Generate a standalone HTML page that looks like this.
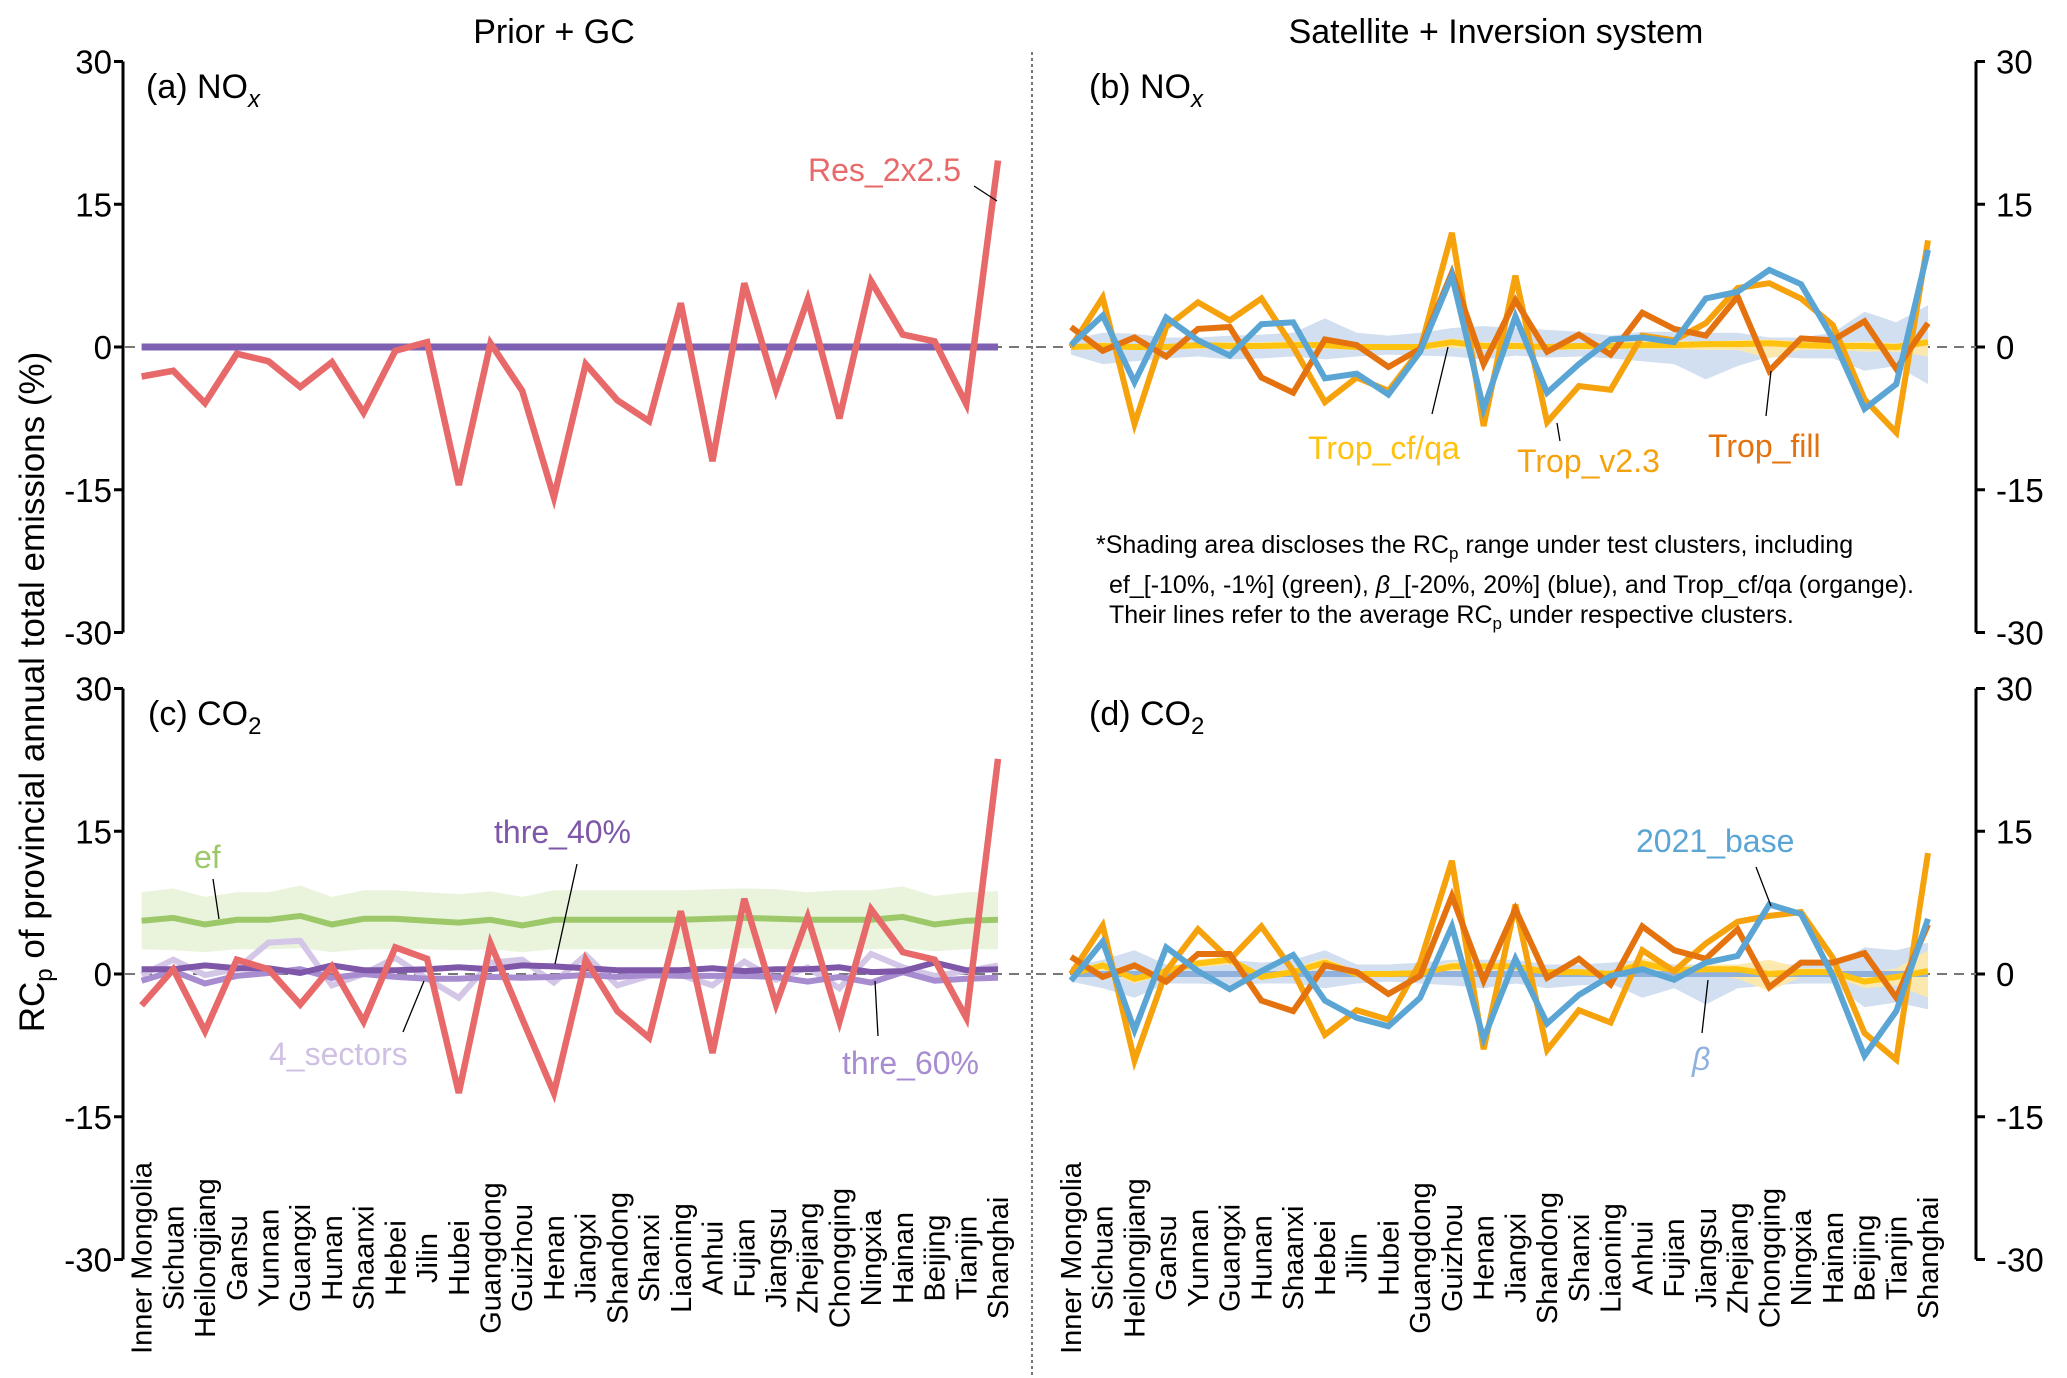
<!DOCTYPE html>
<html><head><meta charset="utf-8"><style>
html,body{margin:0;padding:0;background:#fff;}
svg{display:block;font-family:"Liberation Sans",Arial,sans-serif;}
</style></head><body>
<svg id="fig" width="2067" height="1378" viewBox="0 0 2067 1378" xmlns="http://www.w3.org/2000/svg">
<text x="554" y="43" font-size="34" text-anchor="middle">Prior + GC</text>
<text x="1496" y="43" font-size="34" text-anchor="middle">Satellite + Inversion system</text>
<line x1="1032" y1="52" x2="1032" y2="1378" stroke="#777" stroke-width="2" stroke-dasharray="3,3"/>
<text transform="translate(44,692) rotate(-90)" font-size="35" text-anchor="middle">RC<tspan font-size="24" dy="8">p</tspan><tspan dy="-8"> of provincial annual total emissions (%)</tspan></text>
<text x="146" y="98" font-size="34">(a) NO<tspan font-size="24" dy="9" font-style="italic">x</tspan></text>
<text x="1089" y="98" font-size="34">(b) NO<tspan font-size="24" dy="9" font-style="italic">x</tspan></text>
<text x="148" y="725" font-size="34">(c) CO<tspan font-size="24" dy="9">2</tspan></text>
<text x="1089" y="725" font-size="34">(d) CO<tspan font-size="24" dy="9">2</tspan></text>
<g id="layer"></g>
<g font-size="25">
<text x="1096" y="553">*Shading area discloses the RC<tspan font-size="17" dy="6">p</tspan><tspan dy="-6"> range under test clusters, including</tspan></text>
<text x="1109" y="593">ef_[-10%, -1%] (green), <tspan font-style="italic">β</tspan>_[-20%, 20%] (blue), and Trop_cf/qa (organge).</text>
<text x="1109" y="623">Their lines refer to the average RC<tspan font-size="17" dy="6">p</tspan><tspan dy="-6"> under respective clusters.</tspan></text>
</g>
</svg>
<script>
const provinces=["Inner Mongolia","Sichuan","Heilongjiang","Gansu","Yunnan","Guangxi","Hunan","Shaanxi","Hebei","Jilin","Hubei","Guangdong","Guizhou","Henan","Jiangxi","Shandong","Shanxi","Liaoning","Anhui","Fujian","Jiangsu","Zhejiang","Chongqing","Ningxia","Hainan","Beijing","Tianjin","Shanghai"];
const yTicks=[30,15,0,-15,-30];
// panel a
const aRes=[-3.1,-2.5,-5.9,-0.7,-1.5,-4.2,-1.6,-6.9,-0.4,0.5,-14.5,0.4,-4.6,-15.8,-1.8,-5.6,-7.8,4.6,-12,6.7,-4.5,5.0,-7.5,6.9,1.3,0.6,-6.0,19.6];
const aBase=[0,0,0,0,0,0,0,0,0,0,0,0,0,0,0,0,0,0,0,0,0,0,0,0,0,0,0,0];
// panel b
const bV23=[0,5.2,-8.1,2.1,4.7,2.8,5.1,0,-5.8,-3.2,-4.6,-0.3,12,-8.3,7.5,-7.9,-4.1,-4.5,1.2,0.7,2.5,6.2,6.7,5.1,2.3,-5.5,-9,11.2];
const bFill=[2.1,-0.4,1.0,-1.0,1.9,2.1,-3.2,-4.8,0.8,0.2,-2.1,-0.2,7.8,-1.8,4.9,-0.5,1.3,-0.8,3.6,1.9,1.2,5.3,-2.5,0.9,0.7,2.7,-2.3,2.5];
const bBase=[0.2,3.3,-3.7,3.1,0.7,-0.9,2.4,2.6,-3.3,-2.8,-5.0,-0.5,7.5,-6.5,3.2,-4.8,-1.8,0.8,1.0,0.5,5.1,5.8,8.1,6.6,0.9,-6.5,-3.9,10.2];
const bCfqa=[0,0.1,0,0,0.2,0.1,0.1,0.2,0.2,0,0,0,0.5,0.1,0.1,0,0.1,0.1,0.2,0.2,0.3,0.3,0.4,0.2,0.1,0.1,0,0.5];
const bBandLo=[-0.8,-1.8,-1.5,-1.2,-1.0,-1.3,-1.2,-1.0,-1.3,-1.0,-0.8,-0.9,-1.0,-1.3,-0.9,-1.1,-1.0,-1.2,-1.5,-1.8,-3.4,-2.0,-1.0,-1.2,-1.2,-2.5,-2.0,-3.9];
const bBandHi=[0.8,1.5,1.4,1.0,1.0,1.2,1.3,1.5,3.0,1.5,1.2,1.5,2.0,2.2,2.0,1.8,1.6,1.2,1.6,1.6,1.5,1.5,1.0,1.0,1.5,3.7,2.6,4.4];
const bYelLo=[-0.3,-0.3,-0.3,-0.3,-0.2,-0.3,-0.2,-0.2,-0.2,-0.3,-0.3,-0.3,-0.1,-0.3,-0.3,-0.3,-0.3,-0.3,-0.2,-0.2,-0.3,-0.3,-1.2,-0.3,-0.3,-0.5,-0.5,-1.0];
const bYelHi=[0.3,0.5,0.3,0.3,0.5,0.5,0.5,0.6,0.5,0.3,0.3,0.3,0.9,0.5,0.5,0.3,0.4,0.5,0.6,0.6,0.6,0.7,0.8,0.6,0.4,0.6,0.4,0.9];
// panel c
const cRes=[-3.3,0.5,-6.0,1.5,0.5,-3.2,0.8,-5.0,2.8,1.6,-12.5,3.2,-4.7,-12.5,1.5,-3.9,-6.7,6.6,-8.3,7.9,-3.2,6.0,-5.0,6.8,2.3,1.5,-4.6,22.6];
const cEf=[5.6,5.9,5.2,5.7,5.7,6.1,5.2,5.8,5.8,5.6,5.4,5.7,5.1,5.7,5.7,5.7,5.7,5.7,5.8,5.9,5.8,5.7,5.7,5.7,6.0,5.2,5.6,5.7];
const cEfLo=[2.6,2.5,2.3,2.6,2.6,2.7,2.3,2.6,2.6,2.6,2.5,2.6,2.3,2.6,2.6,2.6,2.6,2.6,2.6,2.7,2.6,2.6,2.6,2.6,2.7,2.4,2.6,2.6];
const cEfHi=[8.6,9.0,8.1,8.6,8.6,9.3,8.1,8.8,8.8,8.6,8.4,8.7,8.1,8.8,8.8,8.8,8.8,8.8,8.9,9.0,8.9,8.6,8.8,8.8,9.2,8.2,8.6,8.7];
const cThre40=[0.5,0.5,0.9,0.6,0.6,0.1,0.9,0.4,0.4,0.5,0.7,0.5,0.9,0.8,0.6,0.4,0.4,0.4,0.6,0.3,0.5,0.5,0.7,0.2,0.3,1.2,0.4,0.5];
const cThre60=[-0.7,0.3,-1.0,-0.2,0.1,0.5,-0.4,0,-0.3,-0.5,-0.5,-0.3,-0.4,-0.3,-0.1,-0.3,-0.1,-0.2,-0.2,-0.2,-0.3,-0.8,-0.3,-0.9,0.2,-0.7,-0.5,-0.4];
const c4sec=[-0.1,1.5,-0.1,0.5,3.3,3.5,-1.2,0,1.7,-0.5,-2.5,1.2,1.5,-0.9,2.0,-1.2,-0.2,-0.1,-1.2,1.3,-0.6,0.7,-1.5,2.1,0.7,-0.2,0.3,0.9];
// panel d
const dV23=[0,5.1,-9.1,0.3,4.7,1.5,5.0,0.3,-6.4,-3.8,-4.8,1.2,11.9,-7.9,7.3,-8.0,-3.8,-5.1,2.5,0.3,3.2,5.5,6.1,6.5,1.7,-6.2,-9.0,12.7];
const dFill=[1.8,-0.3,0.9,-0.8,2.1,2.1,-2.8,-3.9,0.9,0.2,-2.1,-0.2,8.2,-0.7,6.8,-0.4,1.6,-1.1,5.0,2.5,1.6,4.7,-1.4,1.2,1.2,2.2,-2.5,5.2];
const dBase=[-0.7,3.4,-5.9,2.8,0.3,-1.6,0.3,2.0,-2.8,-4.6,-5.5,-2.5,5.0,-6.8,1.6,-5.2,-2.2,-0.2,0.5,-0.6,1.2,1.9,7.3,6.3,-0.2,-8.6,-3.9,5.8];
const dCfqa=[0,0.9,-0.5,0.3,1.1,1.5,-0.3,0.2,1.2,0,0,0.1,0.8,0.8,0.8,0.2,0.2,0,1.1,0.4,0.5,0.5,0,0.2,0.2,-0.8,-0.3,0.3];
const dBeta=[0,0,0,0,0,0,0,0,0,0,0,0,0,0,0,0,0,0,0,0,0,0,0,0,0,0,0,0];
const dBandLo=[-0.8,-1.5,-2.5,-1.0,-1.0,-1.2,-1.0,-1.0,-1.5,-1.0,-0.8,-1.0,-1.2,-1.5,-1.0,-1.5,-1.2,-1.0,-2.5,-1.5,-3.2,-1.5,-1.2,-1.0,-1.0,-3.5,-3.0,-3.7];
const dBandHi=[0.8,1.5,2.5,1.0,1.0,1.5,1.2,1.5,2.5,1.0,1.0,1.2,1.5,1.5,1.5,1.0,1.0,1.2,1.5,1.0,1.0,1.0,1.0,1.0,1.0,2.8,2.5,3.3];
const dYelLo=[-0.3,0.4,-1.0,0,0.7,1.0,-0.6,-0.2,0.7,-0.3,-0.3,-0.2,0.3,0.4,0.4,-0.1,-0.1,-0.3,0.5,0,0,-0.5,-1.8,-0.3,-0.2,-1.5,-1.2,-2.5];
const dYelHi=[0.3,1.3,0,0.6,1.5,1.9,0,0.6,1.7,0.3,0.3,0.4,1.3,1.2,1.2,0.5,0.5,0.3,1.7,0.8,1.0,1.0,1.5,0.6,0.6,0,0.6,2.5];

const NS="http://www.w3.org/2000/svg";
const layer=document.getElementById('layer');
function mk(tag,attrs,parent){const e=document.createElementNS(NS,tag);for(const k in attrs)e.setAttribute(k,attrs[k]);(parent||layer).appendChild(e);return e;}
const PPU=(633-62)/60;
function yS(y0){return v=>y0-v*PPU;}
function xS(x0,x1){return i=>x0+i*(x1-x0)/(provinces.length-1);}
const xL=xS(141.6,998), xR=xS(1071,1928);
const yTop=yS(347), yBot=yS(974);

function line(vals,xf,yf,color,w,name){
  const d=vals.map((v,i)=>(i?'L':'M')+xf(i).toFixed(1)+','+yf(v).toFixed(1)).join('');
  const p=mk('path',{d:d,fill:'none',stroke:color,'stroke-width':w,'stroke-linejoin':'miter','stroke-linecap':'butt'});
  
  
  return p;
}
function band(lo,hi,xf,yf,color,op,name){
  let d=hi.map((v,i)=>(i?'L':'M')+xf(i).toFixed(1)+','+yf(v).toFixed(1)).join('');
  for(let i=lo.length-1;i>=0;i--)d+='L'+xf(i).toFixed(1)+','+yf(lo[i]).toFixed(1);
  const p=mk('path',{d:d+'Z',fill:color,'fill-opacity':op,stroke:'none'});
  
  
}
function zero(x1,x2,yf,name){
  const l=mk('line',{x1:x1,x2:x2,y1:yf(0),y2:yf(0),stroke:'#777','stroke-width':2,'stroke-dasharray':'10,7'});
  
  
}
function axis(side,yf,name){
  const g=mk('g',{});
  
  
  const ax=side==='left'?123:1976;
  mk('line',{x1:ax,x2:ax,y1:yf(30),y2:yf(-30),stroke:'#000','stroke-width':3},g);
  yTicks.forEach(t=>{
    const tx=side==='left'?ax-9:ax+9;
    const tk=mk('line',{x1:ax,x2:tx,y1:yf(t),y2:yf(t),stroke:'#000','stroke-width':3},g);
    
    
    const lb=mk('text',{x:side==='left'?112:1996,y:yf(t)+12,'font-size':33,'text-anchor':side==='left'?'end':'start'},g);
    
    
    lb.textContent=String(t);
  });
}
function xlabels(xf,name){
  const g=mk('g',{});
  
  
  provinces.forEach((p,i)=>{
    const t=mk('text',{transform:'translate('+(xf(i)+10).toFixed(1)+',1258) rotate(-90)','font-size':29,'text-anchor':'middle'},g);
    
    
    t.textContent=p;
  });
}
function label(txt,x,y,color,name,italic){
  const t=mk('text',{x:x,y:y,'font-size':32,fill:color,'font-style':italic?'italic':'normal'});
  
  
  t.textContent=txt;
}
function leader(x1,y1,x2,y2,name){
  const l=mk('line',{x1:x1,y1:y1,x2:x2,y2:y2,stroke:'#000','stroke-width':1.3});
  
  
}

// Panel a
axis('left',yTop,'panel-a-y-axis');
zero(125,1031,yTop,'panel-a-zero-line');
line(aBase,xL,yTop,'#7e5fb2',7,'panel-a-base-line');
line(aRes,xL,yTop,'#e8696a',6.5,'panel-a-res-2x2.5-line');
label('Res_2x2.5',808,181,'#e8696a','label-res-2x2.5');
leader(974,186,997,201,'leader-res-2x2.5');

// Panel b
axis('right',yTop,'panel-b-y-axis');
zero(1036,1976,yTop,'panel-b-zero-line');
band(bBandLo,bBandHi,xR,yTop,'#c6d7ec',0.8,'panel-b-beta-band');
band(bYelLo,bYelHi,xR,yTop,'#ffe9a6',0.9,'panel-b-cfqa-band');
line(bCfqa,xR,yTop,'#ffc20e',6,'panel-b-trop-cfqa-line');
line(bV23,xR,yTop,'#f6a20c',6,'panel-b-trop-v2.3-line');
line(bFill,xR,yTop,'#e4720f',6,'panel-b-trop-fill-line');
line(bBase,xR,yTop,'#5aa5d4',6,'panel-b-2021-base-line');
label('Trop_cf/qa',1308,459,'#ffc20e','label-trop-cfqa');
leader(1432,414,1448,347,'leader-trop-cfqa');
label('Trop_v2.3',1517,472,'#f6a20c','label-trop-v2.3');
leader(1560,441,1557,423,'leader-trop-v2.3');
label('Trop_fill',1708,457,'#e4720f','label-trop-fill');
leader(1766,416,1771,371,'leader-trop-fill');

// Panel c
axis('left',yBot,'panel-c-y-axis');
zero(125,1031,yBot,'panel-c-zero-line');
band(cEfLo,cEfHi,xL,yBot,'#eaf4dd',1,'panel-c-ef-band');
line(cEf,xL,yBot,'#9dc86a',6,'panel-c-ef-line');
line(c4sec,xL,yBot,'#d4c6e6',6,'panel-c-4-sectors-line');
line(cThre60,xL,yBot,'#a88cd0',6,'panel-c-thre-60-line');
line(cThre40,xL,yBot,'#7e57a8',6,'panel-c-thre-40-line');
line(cRes,xL,yBot,'#e8696a',6.5,'panel-c-res-line');
label('ef',194,868,'#9dc86a','label-ef');
leader(213,879,219,919,'leader-ef');
label('thre_40%',494,843,'#7e57a8','label-thre-40');
leader(577,864,555,964,'leader-thre-40');
label('4_sectors',269,1065,'#d0c0e4','label-4-sectors');
leader(403,1032,424,981,'leader-4-sectors');
label('thre_60%',842,1074,'#a88cd0','label-thre-60');
leader(878,1036,875,981,'leader-thre-60');
xlabels(xL,'panel-c-x-axis-labels');

// Panel d
axis('right',yBot,'panel-d-y-axis');
zero(1036,1976,yBot,'panel-d-zero-line');
band(dBandLo,dBandHi,xR,yBot,'#c6d7ec',0.8,'panel-d-beta-band');
band(dYelLo,dYelHi,xR,yBot,'#ffe9a6',0.9,'panel-d-cfqa-band');
line(dBeta,xR,yBot,'#8fb1dc',6,'panel-d-beta-line');
line(dCfqa,xR,yBot,'#ffc20e',6,'panel-d-trop-cfqa-line');
line(dV23,xR,yBot,'#f6a20c',6,'panel-d-trop-v2.3-line');
line(dFill,xR,yBot,'#e4720f',6,'panel-d-trop-fill-line');
line(dBase,xR,yBot,'#5aa5d4',6,'panel-d-2021-base-line');
label('2021_base',1636,852,'#5aa5d4','label-2021-base');
leader(1756,867,1771,906,'leader-2021-base');
label('β',1692,1070,'#8fb1dc','label-beta',true);
leader(1702,1033,1708,980,'leader-beta');
xlabels(xR,'panel-d-x-axis-labels');
</script>
</body></html>
